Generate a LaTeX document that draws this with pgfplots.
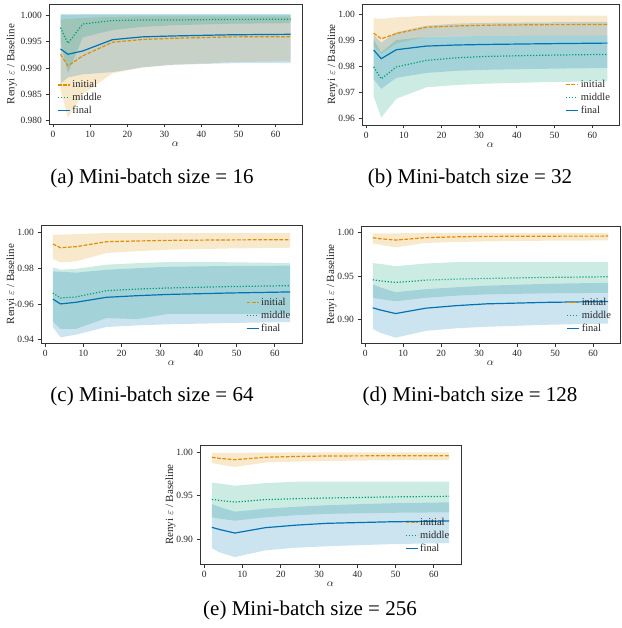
\documentclass[border=0pt]{standalone}
\usepackage{fontspec}
\setmainfont{Liberation Serif}
\usepackage{pgfplots}
\pgfplotsset{compat=1.18}
\usepackage{pgfplotstable}
\definecolor{cO}{HTML}{DE8F05}
\definecolor{cG}{HTML}{029E73}
\definecolor{cB}{HTML}{0173B2}

\pgfplotstableread{
a   im      mm      fm
2   0.9926  0.99765 0.99361
4   0.9904  0.99469 0.9926
8   0.9923  0.99835 0.99323
16  0.99488 0.9990  0.99537
24  0.9954  0.9991  0.9959
32  0.99563 0.9991  0.99607
48  0.9959  0.99922 0.9963
64  0.99594 0.99924 0.99639
}\dA
\pgfplotstableread{
a   im      mm      fm
2   0.99264 0.9797  0.98617
4   0.99048 0.97512 0.98286
8   0.9925  0.9797  0.98629
16  0.99492 0.98222 0.98769
24  0.9954  0.9832  0.9881
32  0.99569 0.98373 0.98832
48  0.9959  0.9842  0.9886
64  0.99594 0.98450 0.98883
}\dB
\pgfplotstableread{
a   im      mm      fm
2   0.99351 0.9661  0.9627
4   0.99144 0.9633  0.9600
8   0.9920  0.9639  0.9609
16  0.99480 0.9674  0.9637
24  0.9952  0.9683  0.9646
32  0.99553 0.9689  0.9653
48  0.9958  0.9697  0.9661
64  0.99592 0.9702  0.9667
}\dC
\pgfplotstableread{
a   im      mm      fm
2   0.99423 0.94579 0.9135
4   0.9930  0.9445  0.9110
8   0.99146 0.94268 0.9069
16  0.9943  0.94540 0.9131
24  0.9952  0.9465  0.9160
32  0.99573 0.94729 0.9181
48  0.9960  0.9485  0.9198
64  0.99608 0.94925 0.9208
}\dD

\pgfplotsset{
  sub/.style={scale only axis, anchor=north west,
    xmin=-1.1, xmax=67.1, xtick={0,10,...,60},
    tick align=outside, tick pos=left,
    axis line style={black!80, line width=0.8pt},
    major tick length=3.5pt,
    every tick/.style={black!80, line width=0.8pt},
    ticklabel style={font=\fontsize{9.5}{11}\selectfont, text=black!85},
    label style={font=\fontsize{11}{13}\selectfont, text=black!85},
    xlabel={$\alpha$}, ylabel={Renyi $\varepsilon$ / Baseline},
    xlabel style={yshift=3pt},
    ylabel style={yshift=-6pt},
    /pgf/number format/assume math mode=true,
    scaled y ticks=false,
    y tick label style={/pgf/number format/fixed, /pgf/number format/fixed zerofill, /pgf/number format/precision=2},
    legend style={draw=none, fill=none, font=\fontsize{10.5}{12}\selectfont, text=black!85},
    legend cell align=left,
    legend image code/.code={\draw[##1] (0pt,0pt) -- (12pt,0pt);},
  },
  bandO/.style={fill=cO, fill opacity=0.2, draw=none, forget plot},
  bandG/.style={fill=cG, fill opacity=0.2, draw=none, forget plot},
  bandB/.style={fill=cB, fill opacity=0.2, draw=none, forget plot},
}
\newcommand{\lines}[1]{%
  \addplot[cO, line width=1.2pt, dash pattern=on 3.7pt off 1.6pt] table[x=a,y=im]{#1};
  \addplot[cG, line width=1.2pt, dash pattern=on 1.2pt off 1.8pt] table[x=a,y=mm]{#1};
  \addplot[cB, line width=1.2pt] table[x=a,y=fm]{#1};
  \legend{initial, middle, final}
}
\newcommand{\bandsD}{%
  \addplot[bandO] coordinates {(2,0.9992)(4,0.9992)(8,0.9993)(16,0.9997)(24,0.9998)(32,0.9998)(48,0.9999)(64,0.9999)
    (64,0.9911)(48,0.9908)(32,0.98997)(24,0.9893)(16,0.9882)(8,0.98305)(4,0.9860)(2,0.98766)};
  \addplot[bandG] coordinates {(2,0.96494)(4,0.9640)(8,0.96148)(16,0.9645)(24,0.96609)(32,0.9661)(48,0.9661)(64,0.9661)
    (64,0.9308)(48,0.9302)(32,0.9290)(24,0.9275)(16,0.9250)(8,0.9211)(4,0.9235)(2,0.9250)};
  \addplot[bandB] coordinates {(2,0.9404)(4,0.9370)(8,0.9315)(16,0.9350)(24,0.9372)(32,0.9390)(48,0.9412)(64,0.9423)
    (64,0.8954)(48,0.8940)(32,0.8917)(24,0.8900)(16,0.8870)(8,0.8792)(4,0.8847)(2,0.8893)};
}

\begin{document}
\begin{tikzpicture}
\path[use as bounding box] (0pt,0pt) rectangle (621pt,-628pt);

% (a)
\begin{axis}[sub, at={(49pt,-4pt)}, width=253pt, height=120pt,
  ymin=0.97937, ymax=1.00214, ytick={0.980,0.985,0.990,0.995,1.000},
  y tick label style={/pgf/number format/precision=3},
  ylabel style={yshift=3pt},
  legend style={at={(0.02,0.04)}, anchor=south west}]
\addplot[bandO] coordinates {(2,0.9992)(4,0.9993)(8,0.9995)(16,0.9997)(24,0.9998)(32,0.9998)(48,0.9998)(64,0.9998)
  (64,0.9913)(48,0.9911)(32,0.9906)(24,0.9901)(16,0.9890)(8,0.9850)(4,0.9805)(2,0.9858)};
\addplot[bandG] coordinates {(2,1.0001)(4,1.0000)(8,1.0001)(16,1.0001)(24,1.0001)(32,1.0001)(48,1.0001)(64,1.0001)
  (64,0.9985)(48,0.9984)(32,0.9981)(24,0.9978)(16,0.9972)(8,0.9958)(4,0.9890)(2,0.9950)};
\addplot[bandB] coordinates {(2,1.0002)(4,1.0002)(8,1.0002)(16,1.0002)(24,1.0002)(32,1.0002)(48,1.0002)(64,1.0002)
  (64,0.9909)(48,0.9909)(32,0.9906)(24,0.9901)(16,0.9892)(8,0.9888)(4,0.9882)(2,0.9870)};
\lines{\dA}
\end{axis}

% (b)
\begin{axis}[sub, at={(362pt,-4pt)}, width=257pt, height=121pt,
  ymin=0.95745, ymax=1.00381, ytick={0.96,0.97,0.98,0.99,1.00},
  legend style={at={(0.985,0.05)}, anchor=south east}]
\addplot[bandO] coordinates {(2,0.9984)(4,0.9981)(8,0.9987)(16,0.9993)(24,0.9994)(32,0.9994)(48,0.9994)(64,0.9994)
  (64,0.9916)(48,0.9916)(32,0.9916)(24,0.9915)(16,0.9913)(8,0.9887)(4,0.9848)(2,0.9876)};
\addplot[bandG] coordinates {(2,0.9901)(4,0.9853)(8,0.9900)(16,0.9912)(24,0.9914)(32,0.9915)(48,0.9916)(64,0.9916)
  (64,0.9742)(48,0.9739)(32,0.9733)(24,0.9728)(16,0.9719)(8,0.9675)(4,0.9603)(2,0.9685)};
\addplot[bandB] coordinates {(2,0.9920)(4,0.9890)(8,0.9930)(16,0.9955)(24,0.9963)(32,0.9966)(48,0.9968)(64,0.9970)
  (64,0.9793)(48,0.9790)(32,0.9786)(24,0.9782)(16,0.9774)(8,0.9755)(4,0.9713)(2,0.9749)};
\lines{\dB}
\end{axis}

% (c)
\begin{axis}[sub, at={(41pt,-225pt)}, width=261pt, height=118pt,
  ymin=0.93814, ymax=1.00414, ytick={0.94,0.96,0.98,1.00},
  legend style={at={(0.975,0.05)}, anchor=south east}]
\addplot[bandO] coordinates {(2,0.99871)(4,0.99880)(8,0.99900)(16,0.99966)(24,0.99966)(32,0.99966)(48,0.99966)(64,0.99966)
  (64,0.99144)(48,0.9910)(32,0.99032)(24,0.9895)(16,0.98848)(8,0.98378)(4,0.98322)(2,0.98512)};
\addplot[bandG] coordinates {(2,0.98043)(4,0.97914)(8,0.9796)(16,0.98194)(24,0.9828)(32,0.98343)(48,0.9833)(64,0.9829)
  (64,0.9544)(48,0.9545)(32,0.9544)(24,0.9515)(16,0.9521)(8,0.9460)(4,0.9460)(2,0.9502)};
\addplot[bandB] coordinates {(2,0.97819)(4,0.9780)(8,0.9775)(16,0.9791)(24,0.9800)(32,0.9808)(48,0.9812)(64,0.9814)
  (64,0.9499)(48,0.9493)(32,0.9486)(24,0.9480)(16,0.9471)(8,0.9428)(4,0.9413)(2,0.9470)};
\lines{\dC}
\end{axis}

% (d)
\begin{axis}[sub, at={(361pt,-226pt)}, width=259pt, height=117pt,
  ymin=0.873, ymax=1.0077, ytick={0.90,0.95,1.00},
  legend style={at={(0.985,0.05)}, anchor=south east}]
\bandsD
\lines{\dD}
\end{axis}

% (e)
\begin{axis}[sub, at={(200pt,-445pt)}, width=261pt, height=119pt,
  ymin=0.8712, ymax=1.0084, ytick={0.90,0.95,1.00},
  legend style={at={(0.975,0.06)}, anchor=south east}]
\bandsD
\lines{\dD}
\end{axis}

\begin{scope}[every node/.style={font=\fontsize{21}{25}\selectfont, inner sep=0pt}]
\node at (152pt,-178pt) {(a) Mini-batch size = 16};
\node at (470pt,-178pt) {(b) Mini-batch size = 32};
\node at (152pt,-396pt) {(c) Mini-batch size = 64};
\node at (470pt,-396pt) {(d) Mini-batch size = 128};
\node at (310pt,-610pt) {(e) Mini-batch size = 256};
\end{scope}
\end{tikzpicture}
\end{document}
